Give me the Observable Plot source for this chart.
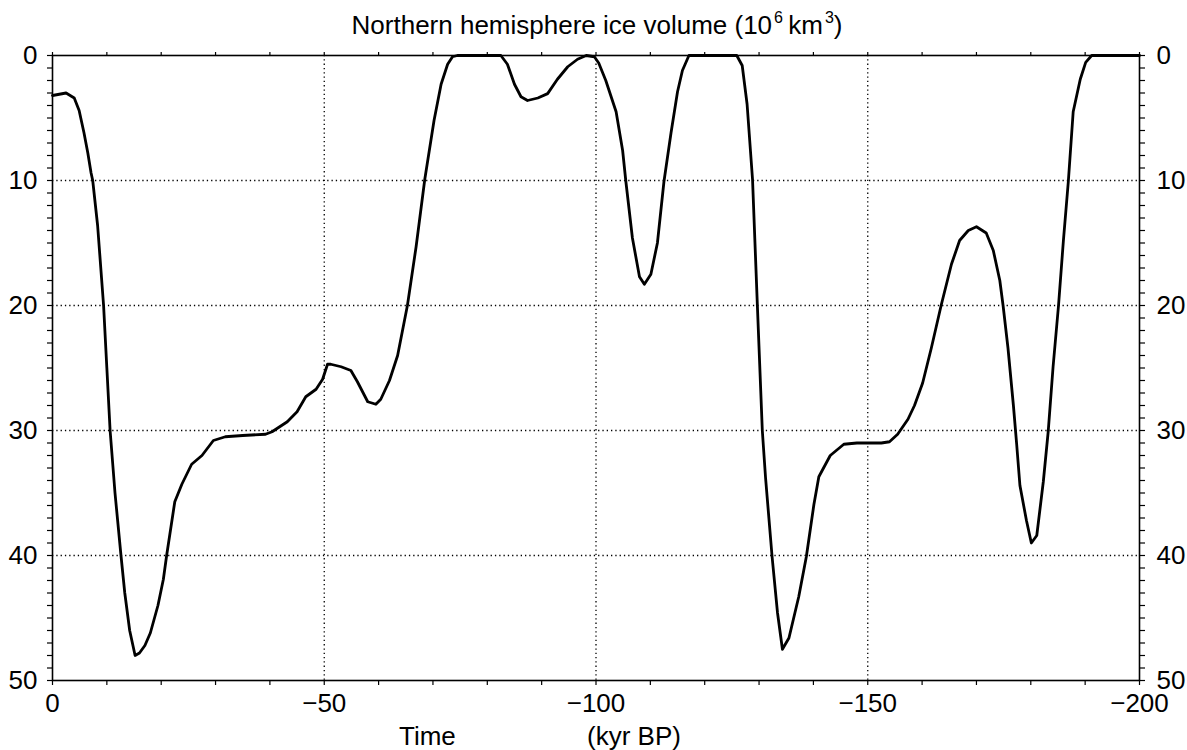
<!DOCTYPE html>
<html>
<head>
<meta charset="utf-8">
<script src="https://cdn.jsdelivr.net/npm/d3@7"></script>
<script src="https://cdn.jsdelivr.net/npm/@observablehq/plot@0.6"></script>
<style>
  html, body { margin: 0; padding: 0; background: #fff; }
  #wrap { position: relative; width: 1187px; height: 750px; font-family: 'Liberation Sans', Arial, Helvetica, sans-serif; color: #000; }
  #chart { position: absolute; left: 0; top: 0; }
  .lbl { position: absolute; font-size: 26px; line-height: 30px; white-space: nowrap; }
  sup { font-size: 16px; vertical-align: 11px; line-height: 0; margin-left: 2px; }
</style>
</head>
<body>
<div id="wrap">
  <div id="chart"></div>
  <div class="lbl" id="title" style="left:0; width:1194px; text-align:center; top:10px;">Northern hemisphere ice volume (10<sup>6</sup>&thinsp;km<sup>3</sup>)</div>
  <div class="lbl" id="xlab1" style="left:399px; top:721px;">Time</div>
  <div class="lbl" id="xlab2" style="left:587px; top:721px;">(kyr BP)</div>
</div>
<script>
// Time (kyr BP, negative = past) and northern hemisphere ice volume (10^6 km^3)
const times = [
  0, -2.5, -4, -4.9, -5.8, -6.5, -7.1, -7.4, -8.3, -9.4, -10, -10.6, -11.5, -12.6, -13.3, -14.2, -15.2,
  -16, -17, -18, -19.4, -20.4, -21, -22.5, -23.8, -25.6, -27.5, -29.6, -31.8, -35, -39.2, -40.4,
  -43.2, -45, -46.6, -48.5, -49.7, -50.6, -51.2, -53.1, -54.9, -56.1, -58, -59.5, -60.4, -62, -63.5,
  -65.3, -66.9, -68.5, -70.2, -71.5, -72.7, -73.6, -74.5, -78, -82.5, -83.7, -85, -86.2, -87.4,
  -89.3, -91.1, -92.9, -94.8, -96.6, -98.2, -99.7, -100.5, -101.8, -103.7, -104.9, -105.5, -106.7,
  -108, -108.9, -110.1, -111.3, -112.5, -113.8, -115, -115.9, -117.1, -121, -125.9, -126.9, -127.8,
  -128.8, -129.7, -130.6, -131.2, -132.4, -133.4, -134.3, -135.5, -137.3, -138.7, -140.1, -141,
  -143.1, -145.6, -148, -152.5, -154, -155.5, -157.4, -158.6, -160.1, -161.7, -163.5, -165.4, -166.9,
  -168.5, -170, -171.8, -173.1, -174.3, -174.9, -175.8, -176.8, -177.4, -178, -179.2, -180.1, -181.1,
  -182.3, -183.2, -184.1, -185.1, -186, -186.9, -187.8, -189.1, -190.1, -191.2, -195, -200
];
const volumes = [
  3.2, 3.0, 3.4, 4.4, 6.2, 7.8, 9.4, 10, 13.6, 20, 25, 30, 35, 40, 43, 46, 48,
  47.8, 47.2, 46.2, 44, 41.9, 40, 35.7, 34.3, 32.7, 32, 30.8, 30.5, 30.4, 30.3, 30.1,
  29.3, 28.5, 27.3, 26.7, 25.9, 24.7, 24.7, 24.9, 25.2, 26.1, 27.7, 27.9, 27.5, 26, 24,
  20, 15.3, 9.9, 5.2, 2.3, 0.7, 0.1, 0, 0, 0, 0.7, 2.3, 3.3, 3.6,
  3.4, 3.05, 1.9, 0.9, 0.3, 0, 0.1, 0.6, 2.0, 4.5, 7.6, 10.1, 14.6,
  17.7, 18.3, 17.5, 15, 10.1, 6.2, 2.9, 1.2, 0, 0, 0, 0.8, 3.9,
  9.9, 20.1, 30, 33.8, 40.1, 44.6, 47.5, 46.6, 43.3, 40.1, 35.9, 33.7,
  32, 31.1, 31, 31, 30.9, 30.3, 29.1, 28, 26.2, 23.4, 20, 16.7, 14.8,
  14, 13.7, 14.2, 15.6, 18, 20, 23.4, 28, 31.1, 34.4, 37.2, 39, 38.4,
  34.1, 30.1, 24.9, 20, 14.8, 10.1, 4.5, 1.9, 0.55, 0, 0, 0
];
const xTicks = d3.range(0, -201, -10);
const xLabels = [0, -50, -100, -150, -200];
const yTicks = d3.range(0, 51, 1);
const yLabels = [0, 10, 20, 30, 40, 50];
const xGrid = [-50, -100, -150];
const yGrid = [10, 20, 30, 40];

const data = times.map((t, i) => ({t, v: volumes[i]}));
const fmtX = d => d === 0 ? "0" : "\u2212" + Math.abs(d);

const chart = Plot.plot({
  width: 1187,
  height: 750,
  marginTop: 55,
  marginLeft: 52,
  marginRight: 48,
  marginBottom: 70,
  style: {fontFamily: "'Liberation Sans', Arial, Helvetica, sans-serif", fontSize: "26px", color: "#000", background: "#fff", overflow: "visible"},
  x: {domain: [0, -200]},
  y: {domain: [0, 50], reverse: true},
  marks: [
    Plot.ruleX(xGrid, {stroke: "#000", strokeWidth: 1.3, strokeDasharray: "1.3,3"}),
    Plot.ruleY(yGrid, {stroke: "#000", strokeWidth: 1.3, strokeDasharray: "1.3,3"}),
    Plot.line(data, {x: "t", y: "v", stroke: "#000", strokeWidth: 2.8, strokeLinejoin: "round"}),
    Plot.frame({stroke: "#000", strokeWidth: 1.6}),
    Plot.axisX({anchor: "bottom", ticks: xTicks, tickSize: 5, tickPadding: 8, strokeWidth: 1.2,
      tickFormat: d => xLabels.includes(d) ? fmtX(d) : "", label: null}),
    Plot.axisX({anchor: "top", ticks: xTicks, tickSize: 4, strokeWidth: 1.2, tickFormat: () => "", label: null}),
    Plot.axisY({anchor: "left", ticks: yTicks, tickSize: 5, tickPadding: 10, strokeWidth: 1.2,
      tickFormat: d => yLabels.includes(d) ? String(d) : "", label: null}),
    Plot.axisY({anchor: "right", ticks: yTicks, tickSize: 5, tickPadding: 12, strokeWidth: 1.2,
      tickFormat: d => yLabels.includes(d) ? String(d) : "", label: null})
  ]
});
document.getElementById("chart").appendChild(chart);
</script>
</body>
</html>
